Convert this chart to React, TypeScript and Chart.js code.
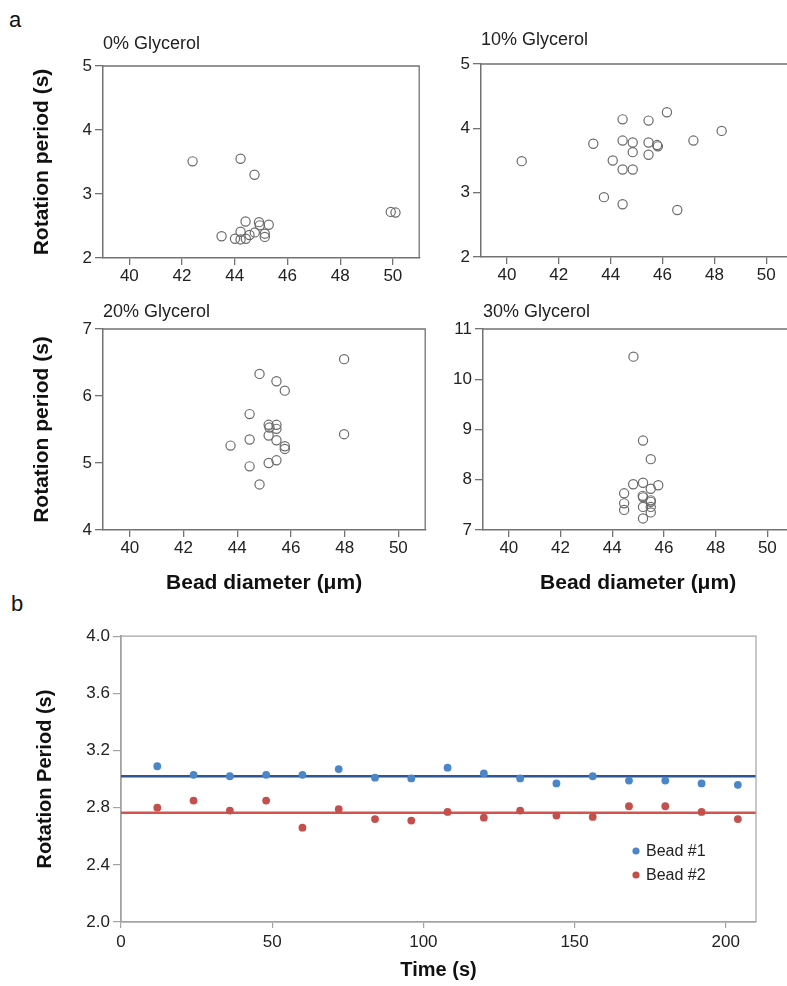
import React, { useEffect, useRef } from "react";
import { Chart, registerables } from "chart.js";

Chart.register(...registerables);

const FONT = "'Liberation Sans', Arial, Helvetica, sans-serif";

// ---------- Panel a: rotation period vs bead diameter ----------
const diameterTicks = [40, 42, 44, 46, 48, 50];

const glycerol0Diameter = [42.4, 44.22, 44.75, 49.92, 50.1, 44.41, 44.92, 44.95, 45.29, 44.22, 44.76, 44.56, 45.14, 45.14, 43.5, 44.01, 44.22, 44.42];
const glycerol0Period = [3.51, 3.55, 3.3, 2.72, 2.71, 2.57, 2.56, 2.51, 2.52, 2.41, 2.4, 2.36, 2.38, 2.33, 2.34, 2.3, 2.29, 2.3];
const glycerol0Ticks = [2, 3, 4, 5];

const glycerol10Diameter = [40.57, 43.33, 43.74, 44.08, 44.46, 44.46, 44.46, 44.46, 44.85, 44.85, 44.85, 45.46, 45.46, 45.46, 45.79, 45.82, 46.17, 46.57, 47.19, 48.28];
const glycerol10Period = [3.49, 3.76, 2.93, 3.5, 4.14, 3.81, 3.36, 2.82, 3.78, 3.63, 3.36, 4.12, 3.78, 3.59, 3.74, 3.72, 4.25, 2.73, 3.81, 3.96];
const glycerol10Ticks = [2, 3, 4, 5];

const glycerol20Diameter = [44.83, 45.46, 45.77, 47.98, 44.46, 45.17, 45.2, 45.46, 45.46, 45.17, 45.46, 44.46, 43.75, 45.77, 45.77, 47.98, 45.17, 45.46, 44.46, 44.83];
const glycerol20Period = [6.33, 6.22, 6.08, 6.55, 5.73, 5.57, 5.53, 5.57, 5.51, 5.41, 5.34, 5.35, 5.26, 5.25, 5.21, 5.43, 5.0, 5.04, 4.95, 4.68];
const glycerol20Ticks = [4, 5, 6, 7];

const glycerol30Diameter = [44.82, 45.19, 45.49, 44.81, 45.19, 45.49, 45.78, 44.46, 44.46, 44.46, 45.18, 45.19, 45.49, 45.49, 45.19, 45.49, 45.49, 45.19];
const glycerol30Period = [10.45, 8.78, 8.41, 7.91, 7.94, 7.82, 7.89, 7.73, 7.53, 7.4, 7.68, 7.65, 7.59, 7.56, 7.46, 7.46, 7.35, 7.23];
const glycerol30Ticks = [7, 8, 9, 10, 11];

// ---------- Panel b: rotation period over time ----------
const timeSeconds = [12, 24, 36, 48, 60, 72, 84, 96, 108, 120, 132, 144, 156, 168, 180, 192, 204];
const bead1Period = [3.09, 3.03, 3.02, 3.03, 3.03, 3.07, 3.01, 3.005, 3.08, 3.04, 3.005, 2.97, 3.02, 2.99, 2.99, 2.97, 2.96];
const bead2Period = [2.8, 2.85, 2.78, 2.85, 2.66, 2.79, 2.72, 2.71, 2.77, 2.73, 2.78, 2.745, 2.735, 2.81, 2.81, 2.77, 2.72];
const bead1Mean = 3.02;
const bead2Mean = 2.765;
const timeTicks = [0, 50, 100, 150, 200];
const periodTicks = [2.0, 2.4, 2.8, 3.2, 3.6, 4.0];
const beadLabels = ["Bead #1", "Bead #2"];

const AXIS_A = "#727272";
const AXIS_B = "#a3a3a3";
const BLUE_DOT = "#4a86c8";
const RED_DOT = "#c4504d";
const BLUE_LINE = "#2c5696";
const RED_LINE = "#d5534f";

function framePlugin(color: string, width: number) {
  return {
    id: "frame",
    afterDraw(chart: any) {
      const { ctx, chartArea: a } = chart;
      ctx.save();
      ctx.strokeStyle = color;
      ctx.lineWidth = width;
      ctx.beginPath();
      ctx.moveTo(a.left, a.top);
      ctx.lineTo(a.right, a.top);
      ctx.lineTo(a.right, a.bottom);
      ctx.stroke();
      ctx.restore();
    },
  };
}

type PanelProps = {
  title: string;
  diameter: number[];
  period: number[];
  yTicks: number[];
  left: number;
  top: number;
  width: number;
  height: number;
  yW: number;
  xH: number;
  padTop: number;
  titlePad: number;
  yTitle?: string;
  xTitle?: string;
};

function ScatterPanel(p: PanelProps) {
  const ref = useRef<HTMLCanvasElement>(null);
  useEffect(() => {
    const canvas = ref.current;
    if (!canvas) return;
    const chart = new Chart(canvas, {
      type: "scatter",
      data: {
        datasets: [
          {
            label: p.title,
            data: p.diameter.map((d, i) => ({ x: d, y: p.period[i] })),
            pointStyle: "circle",
            pointRadius: 4.6,
            pointHoverRadius: 4.6,
            borderColor: "#6a6a6a",
            borderWidth: 1.2,
            backgroundColor: "rgba(255,255,255,0)",
          },
        ],
      },
      options: {
        responsive: false,
        animation: false,
        events: [],
        layout: { padding: { left: 0, top: p.padTop, right: 4, bottom: 0 } },
        plugins: {
          legend: { display: false },
          tooltip: { enabled: false },
          title: {
            display: true,
            text: p.title,
            align: "start",
            fullSize: false,
            color: "#222",
            font: { family: FONT, size: 18, weight: "normal", lineHeight: "22px" },
            padding: { top: 0, bottom: p.titlePad },
          },
        },
        scales: {
          x: {
            type: "linear",
            min: 39,
            max: 51,
            afterBuildTicks: (s: any) => {
              s.ticks = diameterTicks.map((v) => ({ value: v }));
            },
            afterFit: (s: any) => {
              s.height = p.xH;
            },
            ticks: { color: "#222", font: { family: FONT, size: 17 }, padding: 1, maxRotation: 0 },
            grid: { drawOnChartArea: false, drawTicks: true, tickLength: 7, color: AXIS_A, lineWidth: 1.3 },
            border: { display: true, color: AXIS_A, width: 1.5 },
            title: {
              display: !!p.xTitle,
              text: p.xTitle || "",
              color: "#111",
              font: { family: FONT, size: 21, weight: "bold" },
              padding: { top: 0, bottom: 6 },
            },
          },
          y: {
            type: "linear",
            min: p.yTicks[0],
            max: p.yTicks[p.yTicks.length - 1],
            afterBuildTicks: (s: any) => {
              s.ticks = p.yTicks.map((v) => ({ value: v }));
            },
            afterFit: (s: any) => {
              s.width = p.yW;
            },
            ticks: { color: "#222", font: { family: FONT, size: 17 }, padding: 3 },
            grid: { drawOnChartArea: false, drawTicks: true, tickLength: 8, color: AXIS_A, lineWidth: 1.3 },
            border: { display: true, color: AXIS_A, width: 1.5 },
            title: {
              display: !!p.yTitle,
              text: p.yTitle || "",
              color: "#111",
              font: { family: FONT, size: 21, weight: "bold" },
              padding: { top: 10, bottom: 0 },
            },
          },
        },
      },
      plugins: [framePlugin(AXIS_A, 1.3)],
    } as any);
    return () => chart.destroy();
  }, []);
  return (
    <canvas
      ref={ref}
      width={p.width}
      height={p.height}
      style={{ position: "absolute", left: p.left, top: p.top, width: p.width, height: p.height }}
    />
  );
}

function TimePanel() {
  const ref = useRef<HTMLCanvasElement>(null);
  useEffect(() => {
    const canvas = ref.current;
    if (!canvas) return;
    const legendPlugin = {
      id: "beadLegend",
      afterDraw(chart: any) {
        const { ctx, chartArea: a } = chart;
        const colors = [BLUE_DOT, RED_DOT];
        ctx.save();
        beadLabels.forEach((label, i) => {
          const x = a.right - 120;
          const y = a.bottom - 71 + i * 24;
          ctx.fillStyle = colors[i];
          ctx.beginPath();
          ctx.arc(x, y, 3.6, 0, Math.PI * 2);
          ctx.fill();
          ctx.fillStyle = "#222";
          ctx.font = `16px ${FONT}`;
          ctx.textBaseline = "middle";
          ctx.textAlign = "left";
          ctx.fillText(label, x + 10, y + 1);
        });
        ctx.restore();
      },
    };
    const chart = new Chart(canvas, {
      type: "scatter",
      data: {
        datasets: [
          {
            label: beadLabels[0],
            data: timeSeconds.map((t, i) => ({ x: t, y: bead1Period[i] })),
            pointRadius: 3.9,
            pointHoverRadius: 3.9,
            borderWidth: 0,
            backgroundColor: BLUE_DOT,
          },
          {
            label: beadLabels[1],
            data: timeSeconds.map((t, i) => ({ x: t, y: bead2Period[i] })),
            pointRadius: 3.9,
            pointHoverRadius: 3.9,
            borderWidth: 0,
            backgroundColor: RED_DOT,
          },
          {
            label: "Bead #1 mean",
            data: [
              { x: 0, y: bead1Mean },
              { x: 210, y: bead1Mean },
            ],
            showLine: true,
            pointRadius: 0,
            borderColor: BLUE_LINE,
            borderWidth: 2.6,
          },
          {
            label: "Bead #2 mean",
            data: [
              { x: 0, y: bead2Mean },
              { x: 210, y: bead2Mean },
            ],
            showLine: true,
            pointRadius: 0,
            borderColor: RED_LINE,
            borderWidth: 2.6,
          },
        ],
      },
      options: {
        responsive: false,
        animation: false,
        events: [],
        layout: { padding: { left: 0, top: 12, right: 4, bottom: 0 } },
        plugins: { legend: { display: false }, tooltip: { enabled: false } },
        scales: {
          x: {
            type: "linear",
            min: 0,
            max: 210,
            afterBuildTicks: (s: any) => {
              s.ticks = timeTicks.map((v) => ({ value: v }));
            },
            afterFit: (s: any) => {
              s.height = 60;
            },
            ticks: { color: "#222", font: { family: FONT, size: 17 }, padding: 4, maxRotation: 0 },
            grid: { drawOnChartArea: false, drawTicks: true, tickLength: 6, color: AXIS_B, lineWidth: 1.2 },
            border: { display: true, color: AXIS_B, width: 1.8 },
            title: {
              display: true,
              text: "Time (s)",
              color: "#111",
              font: { family: FONT, size: 20, weight: "bold" },
              padding: { top: 0, bottom: 0 },
            },
          },
          y: {
            type: "linear",
            min: 2.0,
            max: 4.0,
            afterBuildTicks: (s: any) => {
              s.ticks = periodTicks.map((v) => ({ value: v }));
            },
            afterFit: (s: any) => {
              s.width = 101;
            },
            ticks: {
              color: "#222",
              font: { family: FONT, size: 17 },
              padding: 3,
              callback: (v: any) => Number(v).toFixed(1),
            },
            grid: { drawOnChartArea: false, drawTicks: true, tickLength: 8, color: AXIS_B, lineWidth: 1.2 },
            border: { display: true, color: AXIS_B, width: 1.8 },
            title: {
              display: true,
              text: "Rotation Period (s)",
              color: "#111",
              font: { family: FONT, size: 20, weight: "bold" },
              padding: { top: 13, bottom: 0 },
            },
          },
        },
      },
      plugins: [framePlugin(AXIS_B, 1.2), legendPlugin],
    } as any);
    return () => chart.destroy();
  }, []);
  return (
    <canvas
      ref={ref}
      width={740}
      height={359}
      style={{ position: "absolute", left: 20, top: 623, width: 740, height: 359 }}
    />
  );
}

const letterStyle: React.CSSProperties = {
  position: "absolute",
  fontFamily: FONT,
  fontSize: 22,
  color: "#111",
  lineHeight: "22px",
};

export default function App() {
  return (
    <div
      style={{
        position: "fixed",
        left: 0,
        top: 0,
        width: 787,
        height: 986,
        overflow: "hidden",
        background: "#fff",
      }}
    >
      <div style={{ ...letterStyle, left: 9, top: 9 }}>a</div>
      <div style={{ ...letterStyle, left: 11, top: 593 }}>b</div>
      <ScatterPanel
        title="0% Glycerol"
        diameter={glycerol0Diameter}
        period={glycerol0Period}
        yTicks={glycerol0Ticks}
        left={20}
        top={31}
        width={405}
        height={257}
        yW={83}
        xH={30}
        padTop={2}
        titlePad={11}
        yTitle="Rotation period (s)"
      />
      <ScatterPanel
        title="10% Glycerol"
        diameter={glycerol10Diameter}
        period={glycerol10Period}
        yTicks={glycerol10Ticks}
        left={440}
        top={27}
        width={358}
        height={260}
        yW={41}
        xH={30}
        padTop={2}
        titlePad={13}
      />
      <ScatterPanel
        title="20% Glycerol"
        diameter={glycerol20Diameter}
        period={glycerol20Period}
        yTicks={glycerol20Ticks}
        left={20}
        top={299}
        width={411}
        height={303}
        yW={83}
        xH={72}
        padTop={2}
        titlePad={6}
        yTitle="Rotation period (s)"
        xTitle="Bead diameter (μm)"
      />
      <ScatterPanel
        title="30% Glycerol"
        diameter={glycerol30Diameter}
        period={glycerol30Period}
        yTicks={glycerol30Ticks}
        left={440}
        top={299}
        width={359}
        height={303}
        yW={43}
        xH={72}
        padTop={2}
        titlePad={6}
        xTitle="Bead diameter (μm)"
      />
      <TimePanel />
    </div>
  );
}
